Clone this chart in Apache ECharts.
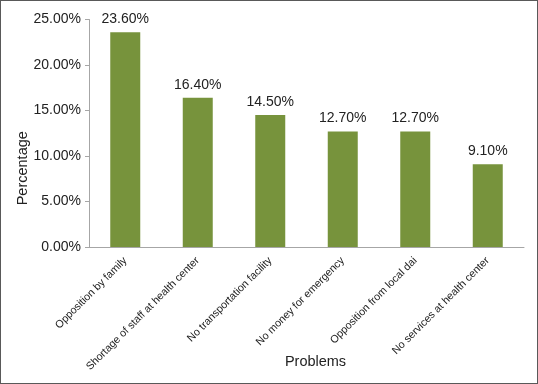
<!DOCTYPE html>
<html><head><meta charset="utf-8">
<script src="https://cdn.jsdelivr.net/npm/echarts@6/dist/echarts.min.js"></script>
<style>html,body{margin:0;padding:0;background:#fff}#c{width:538px;height:384px;box-sizing:border-box;border:1px solid #595959}</style>
</head><body><div id="c"></div>
<script>
const categories = ["Opposition by family","Shortage of staff at health center","No transportation facility","No money for emergency","Opposition from local dai","No services at health center"];
const values = [23.6, 16.4, 14.5, 12.7, 12.7, 9.1];
const yTicks = [0, 5, 10, 15, 20, 25];
const chart = echarts.init(document.getElementById('c'));
const font = 'Liberation Sans, Arial, sans-serif';
chart.setOption({
  animation:false,
  grid:{left:88,right:13,top:18.5,bottom:136,outerBoundsMode:'none',containLabel:false},
  xAxis:{type:'category',data:categories,name:'Problems',nameLocation:'middle',nameGap:107,nameMoveOverlap:false,
    nameTextStyle:{fontFamily:font,fontSize:14.5,color:'#222',padding:[0,0,0,18]},
    axisLine:{lineStyle:{color:'#a6a6a6'}},axisTick:{lineStyle:{color:'#a6a6a6'},length:4},
    axisLabel:{rotate:45,fontFamily:font,fontSize:10.7,color:'#222',margin:12,interval:0}},
  yAxis:{type:'value',min:yTicks[0],max:yTicks[yTicks.length-1],interval:5,name:'Percentage',nameLocation:'middle',nameGap:59,nameMoveOverlap:false,
    nameTextStyle:{fontFamily:font,fontSize:14.5,color:'#222',padding:[0,70,0,0]},
    splitLine:{show:false},axisLine:{show:true,lineStyle:{color:'#a6a6a6'}},axisTick:{show:true,length:4,lineStyle:{color:'#a6a6a6'}},
    axisLabel:{fontFamily:font,fontSize:14,color:'#222',margin:8,formatter:v=>v.toFixed(2)+'%'}},
  series:[{type:'bar',data:values,barWidth:30,itemStyle:{color:'#77933C'},
    label:{show:true,position:'top',distance:6,fontFamily:font,fontSize:14,color:'#222',formatter:p=>p.value.toFixed(2)+'%'}}]
});
</script></body></html>
